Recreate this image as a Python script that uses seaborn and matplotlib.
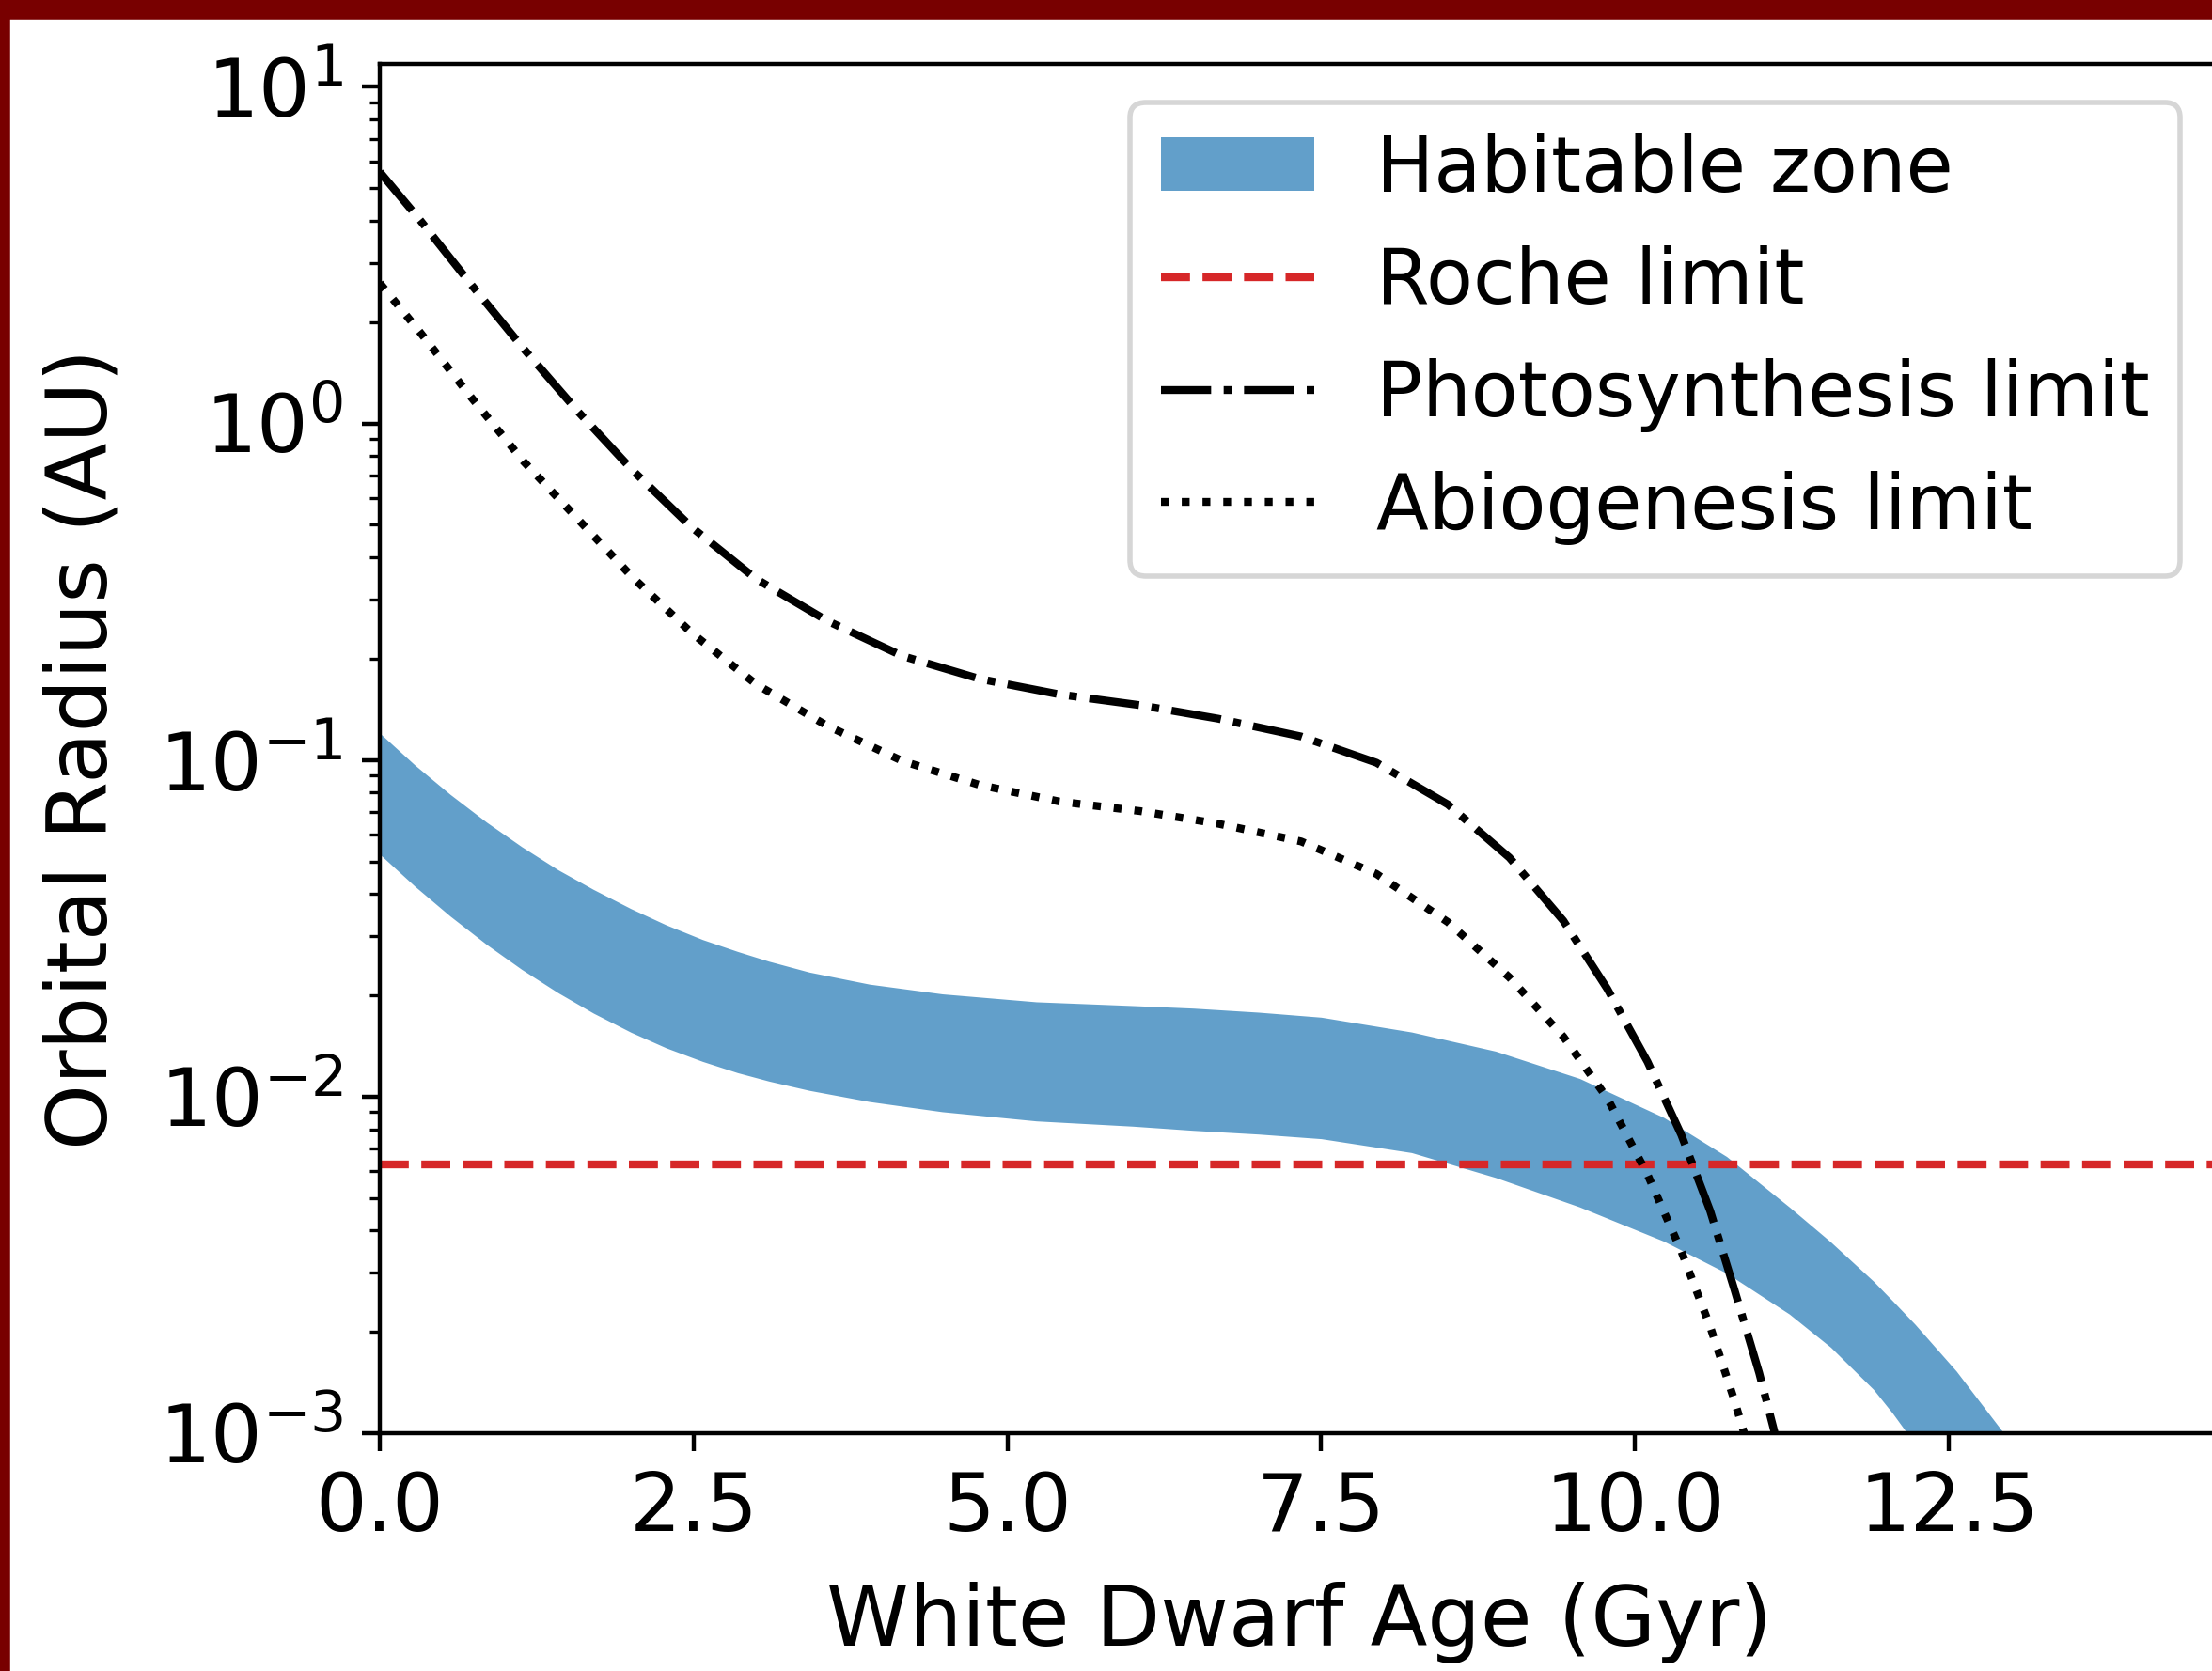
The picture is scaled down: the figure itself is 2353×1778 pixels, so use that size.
import matplotlib
matplotlib.use("Agg")
import matplotlib.pyplot as plt
from matplotlib.patches import Rectangle, Patch
from matplotlib.ticker import MultipleLocator
import seaborn as sns

# ages (Gyr) and radii (AU)
hz_age = [0.0, 0.28, 0.56, 0.85, 1.13, 1.42, 1.70, 2.0, 2.28, 2.57, 2.85, 3.1, 3.42, 3.9,
          4.48, 5.23, 6.0, 6.48, 7.0, 7.5, 8.22, 8.89, 9.56, 10.23, 10.73, 11.23, 11.56,
          11.90, 12.05, 12.23, 12.56, 12.93, 13.1]
hz_outer = [0.1202, 0.0966, 0.0791, 0.0654, 0.0553, 0.0472, 0.0413, 0.0362, 0.0324, 0.0293,
            0.0270, 0.02525, 0.02345, 0.02159, 0.02020, 0.01913, 0.01864, 0.01832, 0.01782,
            0.01722, 0.01556, 0.01365, 0.01132, 0.00867, 0.00664, 0.00470, 0.00370, 0.00283,
            0.00248, 0.00211, 0.00153, 0.00101, 0.00083]
hz_inner = [0.0525, 0.04215, 0.03440, 0.02834, 0.02389, 0.02036, 0.01772, 0.01554, 0.01397,
            0.01273, 0.01178, 0.01112, 0.01044, 0.00967, 0.00902, 0.00847, 0.00817, 0.00794,
            0.00774, 0.00750, 0.00682, 0.00575, 0.00470, 0.00372, 0.00299, 0.00226, 0.00180,
            0.00135, 0.00115, 0.00093, 0.00063, 0.00040, 0.00032]

photo_age = [0.0, 0.321, 0.732, 1.146, 1.575, 2.016, 2.484, 2.995, 3.563, 4.165, 4.78,
             5.415, 6.06, 6.68, 7.34, 7.94, 8.51, 9.0, 9.43, 9.78, 10.10, 10.37, 10.60,
             10.79, 10.99, 11.11, 11.25]
photo_au = [5.585, 4.018, 2.576, 1.667, 1.089, 0.7244, 0.4920, 0.3459, 0.2594, 0.2037,
            0.1742, 0.1567, 0.1455, 0.1327, 0.1175, 0.0982, 0.0738, 0.0513, 0.0333, 0.0209,
            0.0127, 0.00769, 0.00457, 0.00269, 0.00151, 0.001014, 0.000589]

abio_age = [0.0, 0.321, 0.732, 1.146, 1.575, 2.016, 2.484, 2.995, 3.563, 4.165, 4.78,
            5.415, 6.06, 6.68, 7.34, 7.94, 8.51, 9.0, 9.43, 9.78, 10.10, 10.37, 10.60,
            10.79, 10.99]
abio_au = [2.612, 1.866, 1.191, 0.7709, 0.5212, 0.3483, 0.2388, 0.1683, 0.1265, 0.0993,
           0.0843, 0.0753, 0.0705, 0.0647, 0.0573, 0.0459, 0.0330, 0.0226, 0.01507, 0.00989,
           0.00587, 0.00347, 0.00207, 0.00126, 0.000708]

roche_au = 0.00629

W, H = 2353, 1778
fig = plt.figure(figsize=(W / 400, H / 400), dpi=400)
plt.rcParams['font.size'] = 15

# dark red frame along top and left edge
fig.patches.append(Rectangle((0, 1 - 18 / H), 1, 18 / H, transform=fig.transFigure,
                             color='#780000', zorder=10))
fig.patches.append(Rectangle((0, 0), 7.5 / W, 1, transform=fig.transFigure,
                             color='#780000', zorder=10))

ax = fig.add_axes([404 / W, 253 / H, 1956 / W, 1457 / H])

ax.fill_between(hz_age, hz_inner, hz_outer, color='C0', alpha=0.7, linewidth=0)
ax.axhline(roche_au, color='C3', linestyle='--', linewidth=1.5)
sns.lineplot(x=photo_age, y=photo_au, ax=ax, color='k', linestyle='-.', linewidth=1.5)
sns.lineplot(x=abio_age, y=abio_au, ax=ax, color='k', linestyle=':', linewidth=1.5)

ax.set_yscale('log')
ax.set_xlim(0, 14.65)
ax.set_ylim(1e-3, 11.7)
ax.xaxis.set_major_locator(MultipleLocator(2.5))
ax.tick_params(labelsize=15.5)

ax.set_xlabel('White Dwarf Age (Gyr)', fontsize=16, labelpad=6.5)
ax.set_ylabel('Orbital Radius (AU)', fontsize=16, labelpad=6.5)

handles = [
    Patch(color='C0', alpha=0.7, linewidth=0),
    plt.Line2D([], [], color='C3', linestyle='--', linewidth=1.5),
    plt.Line2D([], [], color='k', linestyle='-.', linewidth=1.5),
    plt.Line2D([], [], color='k', linestyle=':', linewidth=1.5),
]
labels = ['Habitable zone', 'Roche limit', 'Photosynthesis limit', 'Abiogenesis limit']
ax.legend(handles, labels, loc='upper right', fontsize=14.7)

fig.savefig('out.png', dpi=400)
